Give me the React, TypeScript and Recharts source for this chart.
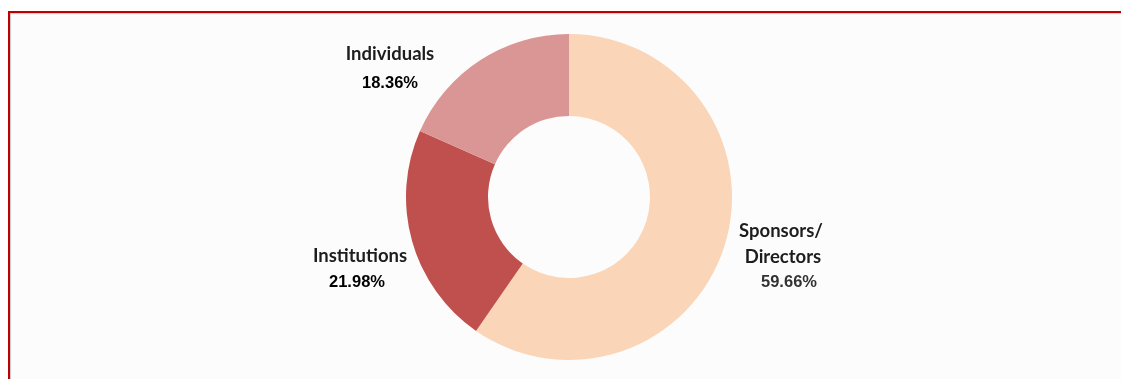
import React from "react";
import { PieChart, Pie, Cell } from "recharts";

// shareholding split
const holders = ["Sponsors/ Directors", "Institutions", "Individuals"];
const shares = [59.66, 21.98, 18.36];
const sliceColors = ["#fad5b7", "#c0504d", "#d99694"];

const data = holders.map((name, i) => ({ name, value: shares[i] }));

// label placement relative to the pie centre, one per slice
const LABEL_SPOTS = [
  { lines: [{ dx: 212, dy: 40 }, { dx: 214, dy: 66 }], pct: { dx: 220, dy: 90 } },
  { lines: [{ dx: -209, dy: 65 }], pct: { dx: -212, dy: 90 } },
  { lines: [{ dx: -179, dy: -137 }], pct: { dx: -179, dy: -109 } },
];

// chart margin is 5, so these land the centre at (569, 197) on the page
const CX = 556;
const CY = 184;

function SliceLabel(props: any) {
  const { index, cx, cy, name, value } = props;
  const spot = LABEL_SPOTS[index];
  const parts = name.split(" ");
  return (
    <g>
      {parts.map((p: string, k: number) => (
        <text
          key={k}
          x={cx + spot.lines[Math.min(k, spot.lines.length - 1)].dx}
          y={cy + spot.lines[Math.min(k, spot.lines.length - 1)].dy}
          textAnchor="middle"
          fill="#1d1d1d"
          fontFamily="Lato, 'Open Sans', sans-serif"
          fontWeight={700}
          fontSize={18.5}
        >
          {p}
        </text>
      ))}
      <text
        x={cx + spot.pct.dx}
        y={cy + spot.pct.dy}
        textAnchor="middle"
        fill={index === 0 ? "#333" : "#000"}
        fontFamily="'Liberation Sans', Arial, sans-serif"
        fontWeight={700}
        fontSize={16.5}
      >
        {value.toFixed(2)}%
      </text>
    </g>
  );
}

export default function App() {
  return (
    <>
      <div
        style={{
          position: "fixed",
          left: 8,
          top: 11,
          width: 1140,
          height: 400,
          borderTop: "2px solid #c00000",
          borderLeft: "2px solid #c00000",
          boxShadow: "inset 1px 1px 1px #c8c8c8",
          background: "#fcfcfc",
        }}
      />
      <div style={{ position: "relative", width: 1105, height: 360 }}>
        <PieChart width={1105} height={360}>
          <Pie
            data={data}
            dataKey="value"
            nameKey="name"
            cx={CX}
            cy={CY}
            innerRadius={81}
            outerRadius={163}
            startAngle={90}
            endAngle={-270}
            stroke="none"
            label={SliceLabel}
            labelLine={false}
            isAnimationActive={false}
          >
            {data.map((d, i) => (
              <Cell key={d.name} fill={sliceColors[i]} />
            ))}
          </Pie>
        </PieChart>
      </div>
    </>
  );
}
